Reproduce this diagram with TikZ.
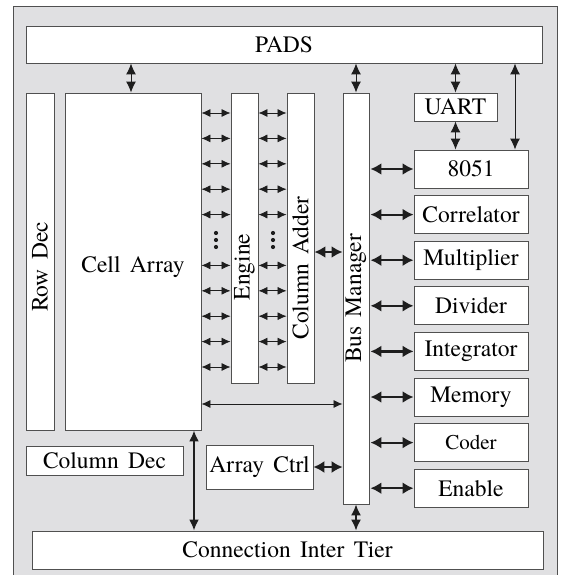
\documentclass[tikz,border=0pt]{standalone}
\usepackage{fontspec}
\setmainfont{texgyretermes}[Extension=.otf, UprightFont=*-regular,
    BoldFont=*-bold, ItalicFont=*-italic, BoldItalicFont=*-bolditalic]
\usetikzlibrary{arrows.meta}
\definecolor{chipgray}{RGB}{224,224,226}
\definecolor{edgegray}{RGB}{80,80,80}
\definecolor{arrowblack}{RGB}{30,30,30}
\newcommand{\blkfont}{\fontsize{23.5}{28}\selectfont\spaceskip=0.4em\relax}

\begin{document}
\begin{tikzpicture}[x=1pt, y=-1pt,
        blk/.style={draw=edgegray, fill=white, line width=0.9pt, inner sep=0pt,
            font=\blkfont},
        txt/.style={inner sep=0pt, font=\blkfont},
        sarr/.style={arrowblack, line width=0.8pt,
            {Latex[length=9pt,width=8pt]}-{Latex[length=9pt,width=8pt]}},
        marr/.style={arrowblack, line width=1pt,
            {Latex[length=11pt,width=10pt]}-{Latex[length=11pt,width=10pt]}},
        barr/.style={arrowblack, line width=2.2pt,
            {Latex[length=11pt,width=12pt]}-{Latex[length=11pt,width=12pt]}}]
        \useasboundingbox (0,0) rectangle (561,575);
        \clip (0,0) rectangle (561,575);

        % chip outline
        \fill[chipgray] (13,7) rectangle (557,590);
        \draw[edgegray, line width=1pt] (13,590) -- (13,7) -- (557,7) -- (557,590);

        % blocks
        \node[blk, minimum width=516, minimum height=37] (pads) at (284,44.5) {PADS};
        \node[blk, minimum width=28, minimum height=337] (rowdec) at (40,261.5) {};
        \node[blk, minimum width=136, minimum height=337] (cell) at (133,261.5) {};
        \node[blk, minimum width=27, minimum height=290] (eng) at (244.5,238) {};
        \node[blk, minimum width=27, minimum height=290] (adder) at (300.5,238) {};
        \node[blk, minimum width=26, minimum height=411] (bus) at (356,298.5) {};
        \node[blk, minimum width=83, minimum height=28] (uart) at (455.5,107) {UART};
        \node[blk, minimum width=157, minimum height=29] (coldec) at (104.5,460.5) {Column Dec};
        \node[blk, minimum width=107, minimum height=44] (actrl) at (259.5,467) {Array Ctrl};
        \node[blk, minimum width=511, minimum height=38] (conn) at (287.5,550) {Connection Inter Tier};

        % texts of the tall blocks
        \node[txt, rotate=90] at (40,267) {Row Dec};
        \node[txt] at (133,267) {Cell Array};
        \node[txt, rotate=90] at (244.5,267) {Engine};
        \node[txt, rotate=90] at (300.5,268) {Column Adder};
        \node[txt, rotate=90] at (bus.center) {Bus Manager};

        % peripherals on the bus
        \foreach \name/\fs [count=\i from 0] in {8051/23.5, Correlator/23.5,
                Multiplier/23.5, Divider/23.5, Integrator/23.5, Memory/23.5,
                Coder/21, Enable/23.5} {
            \node[blk, minimum width=114, minimum height=38,
                font=\fontsize{\fs}{\fs}\selectfont] (p\i) at (471,169+45.6*\i) {\name};
            \draw[barr, shorten <=1pt] (bus.east |- p\i.west) -- (p\i.west);
        }

        % cell array <-> engine <-> column adder
        \foreach \k in {0,...,10} {
            \ifnum\k=5 \else
                \draw[sarr] (cell.east |- 0,113+25.4*\k) -- (eng.west |- 0,113+25.4*\k);
                \draw[sarr] (eng.east |- 0,113+25.4*\k) -- (adder.west |- 0,113+25.4*\k);
            \fi
        }
        \foreach \x in {216,273}
            \foreach \y in {233,240,247}
                \fill[arrowblack] (\x,\y) circle (2.1);

        \draw[barr] (adder.east |- 0,252) -- (bus.west |- 0,252);
        \draw[sarr] (cell.east |- 0,404) -- (bus.west |- 0,404);
        \draw[barr, line width=1.6pt] (actrl.east) -- (bus.west |- actrl.east);

        % vertical links
        \draw[marr] (pads.south -| 131,0) -- (cell.north -| 131,0);
        \draw[marr] (pads.south -| bus.north) -- (bus.north);
        \draw[marr] (pads.south -| uart.north) -- (uart.north);
        \draw[marr] (uart.south) -- (p0.north -| uart.south);
        \draw[marr] (pads.south -| 515,0) -- (p0.north -| 515,0);
        \draw[marr, line width=2pt] (cell.south -| 194,0) -- (conn.north -| 194,0);
        \draw[marr, line width=1.6pt] (bus.south) -- (conn.north -| bus.south);
    \end{tikzpicture}
\end{document}
